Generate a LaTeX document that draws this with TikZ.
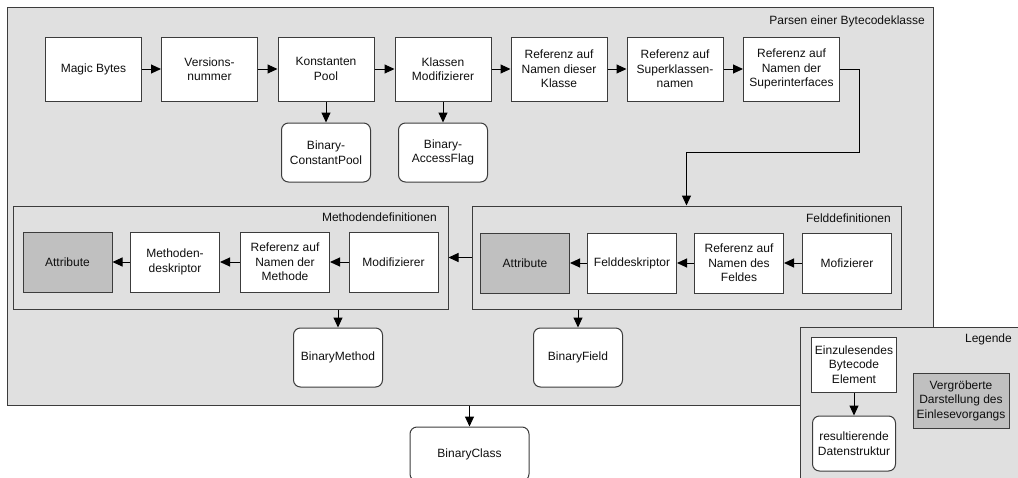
\documentclass[tikz,border=0pt]{standalone}
\usepackage{fontspec}
\setmainfont{Liberation Sans}
\usetikzlibrary{arrows.meta}
\definecolor{bordc}{RGB}{60,60,60}
\definecolor{bgc}{RGB}{224,224,224}
\definecolor{darkc}{RGB}{192,192,192}
\definecolor{txtc}{RGB}{15,15,15}
\begin{document}
\begin{tikzpicture}[x=1pt,y=-1pt,
  every node/.style={font=\fontsize{12}{14.5}\selectfont, text=txtc},
  box/.style={draw=bordc, fill=white, line width=1pt, inner sep=1pt, align=center},
  topbox/.style={box, minimum width=96pt, minimum height=64pt},
  inbox/.style={box, minimum width=89pt, minimum height=60pt},
  graybox/.style={fill=darkc},
  resbox/.style={box, rounded corners=7pt, minimum width=89pt, minimum height=59pt},
  frame/.style={draw=bordc, fill=bgc, line width=1pt, inner sep=0pt},
  title/.style={anchor=east, inner sep=0pt},
  arr/.style={draw=black, line width=1pt, -{Triangle[length=10pt,width=9pt]}}
]
\useasboundingbox (0,0) rectangle (1018,477);
\clip (0,0) rectangle (1018,477);

% outer frame
\node[frame, minimum width=926pt, minimum height=398pt] (outer) at (470,206) {};
\node[title] (outertitle) at (925,21) {Parsen einer Bytecodeklasse};

% top row
\node[topbox] (magic) at (93.5,69) {Magic Bytes};
\node[topbox] (version) at (209.5,69) {Versions-\\nummer};
\node[topbox] (pool) at (326,69) {Konstanten\\Pool};
\node[topbox] (kmod) at (443,69) {Klassen\\Modifizierer};
\node[topbox] (thisclass) at (559,69) {Referenz auf\\Namen dieser\\Klasse};
\node[topbox] (super) at (675,69) {Referenz auf\\Superklassen-\\namen};
\node[topbox] (ifaces) at (791.5,69) {Referenz auf\\Namen der\\Superinterfaces};

\node[resbox] (cpool) at (326,152.5) {Binary-\\ConstantPool};
\node[resbox] (aflag) at (443,152.5) {Binary-\\AccessFlag};

\draw[arr] (magic) -- (version);
\draw[arr] (version) -- (pool);
\draw[arr] (pool) -- (kmod);
\draw[arr] (kmod) -- (thisclass);
\draw[arr] (thisclass) -- (super);
\draw[arr] (super) -- (ifaces);
\draw[arr] (pool) -- (cpool);
\draw[arr] (kmod) -- (aflag);

% Felddefinitionen
\node[frame, minimum width=429pt, minimum height=103pt] (feld) at (686.5,257.5) {};
\node[title] (feldtitle) at (891,218) {Felddefinitionen};
\node[inbox, graybox] (fattr) at (525,263) {Attribute};
\node[inbox] (fdesk) at (632,263) {Felddeskriptor};
\node[inbox] (fref) at (739,263) {Referenz auf\\Namen des\\Feldes};
\node[inbox] (fmod) at (847,263) {Mofizierer};
\draw[arr] (fmod) -- (fref);
\draw[arr] (fref) -- (fdesk);
\draw[arr] (fdesk) -- (fattr);

% Methodendefinitionen
\node[frame, minimum width=435pt, minimum height=103pt] (meth) at (230.5,257.5) {};
\node[title] (methtitle) at (437,217) {Methodendefinitionen};
\node[inbox, graybox] (mattr) at (67.5,262) {Attribute};
\node[inbox] (mdesk) at (175,262) {Methoden-\\deskriptor};
\node[inbox] (mref) at (285,262) {Referenz auf\\Namen der\\Methode};
\node[inbox] (mmod) at (393.5,262) {Modifizierer};
\draw[arr] (mmod) -- (mref);
\draw[arr] (mref) -- (mdesk);
\draw[arr] (mdesk) -- (mattr);

% connectors between groups
\coordinate (bend) at (859,152);
\draw[arr] (ifaces.east) -| (bend) -| (feld.north);
\draw[arr] (feld.west) -- (meth.east);

\node[resbox] (bmethod) at (338,357.5) {BinaryMethod};
\node[resbox] (bfield) at (578,357.5) {BinaryField};
\draw[arr] (bmethod.north |- meth.south) -- (bmethod.north);
\draw[arr] (bfield.north |- feld.south) -- (bfield.north);

\node[resbox, minimum width=119pt, minimum height=54pt] (bclass) at (469.5,454) {BinaryClass};
\draw[arr] (bclass.north |- outer.south) -- (bclass.north);

% Legende
\node[frame, minimum width=221pt, minimum height=170pt] (legend) at (910.5,412) {};
\node[title] (legtitle) at (1012,339) {Legende};
\node[box, minimum width=85pt, minimum height=55pt] (einz) at (854,364.5) {Einzulesendes\\Bytecode\\Element};
\node[box, rounded corners=7pt, minimum width=83pt, minimum height=55pt] (result) at (854,443.5) {resultierende\\Datenstruktur};
\node[box, graybox, minimum width=96pt, minimum height=55pt] (vergr) at (961,400.5) {Vergröberte\\Darstellung des\\Einlesevorgangs};
\draw[arr] (einz) -- (result);
\end{tikzpicture}
\end{document}
